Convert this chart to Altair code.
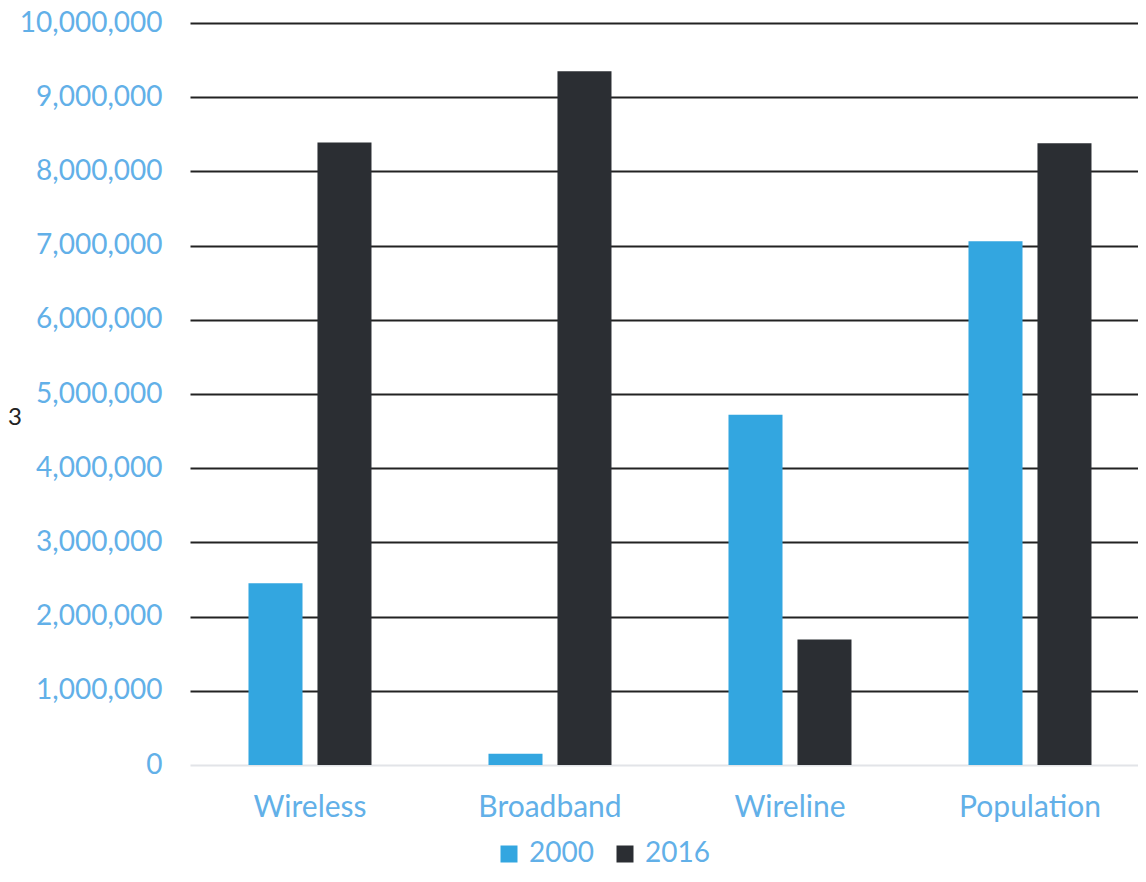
import altair as alt
import pandas as pd

categories = ["Wireless", "Broadband", "Wireline", "Population"]
values_2000 = [2450000, 150000, 4720000, 7060000]
values_2016 = [8390000, 9350000, 1690000, 8380000]
years = ["2000", "2016"]
colors = ["#33A6E0", "#2B2E33"]
label_color = "#62B0E8"
FONT = "Lato"

rows = []
for i, c in enumerate(categories):
    rows.append({"category": c, "year": years[0], "value": values_2000[i]})
    rows.append({"category": c, "year": years[1], "value": values_2016[i]})
df = pd.DataFrame(rows)

bars = alt.Chart(df).mark_bar().encode(
    x=alt.X("category:N", sort=categories, title=None,
            scale=alt.Scale(paddingInner=0.4875, paddingOuter=0.21875, align=0.557),
            axis=alt.Axis(labelAngle=0, labelFont=FONT, labelFontSize=30,
                          labelColor=label_color, labelPadding=27, ticks=False,
                          domain=False, grid=False)),
    xOffset=alt.XOffset("year:N", scale=alt.Scale(paddingInner=0.217, paddingOuter=0)),
    y=alt.Y("value:Q", title=None,
            scale=alt.Scale(domain=[0, 10000000], nice=False),
            axis=alt.Axis(values=list(range(0, 10000001, 1000000)), format=",d",
                          labelFont=FONT, labelFontSize=28, labelColor=label_color,
                          labelPadding=28, ticks=False, domain=False,
                          gridColor=alt.condition("datum.value == 0", alt.value("#E2E4E8"), alt.value("#222222")),
                          gridWidth=2)),
    color=alt.Color("year:N", scale=alt.Scale(domain=years, range=colors),
                    legend=alt.Legend(title=None, orient="none", direction="horizontal",
                                      legendX=305, legendY=817, symbolType="square",
                                      symbolSize=289, symbolStrokeWidth=0,
                                      labelFont=FONT, labelFontSize=28,
                                      labelColor=label_color, labelOffset=6,
                                      columnPadding=17)),
)

note = alt.Chart(pd.DataFrame({"t": ["3"]})).mark_text(
    font=FONT, fontSize=24, color="#222222", align="left", baseline="middle"
).encode(x=alt.value(-182), y=alt.value(395), text="t:N")

chart = alt.layer(bars, note).properties(
    width=948, height=742,
    autosize=alt.AutoSizeParams(type="none"),
    padding={"left": 182, "top": 15, "right": 0, "bottom": 104},
).configure_view(stroke=None)

chart.save("out.html", embed_options={"renderer": "svg", "actions": False})
